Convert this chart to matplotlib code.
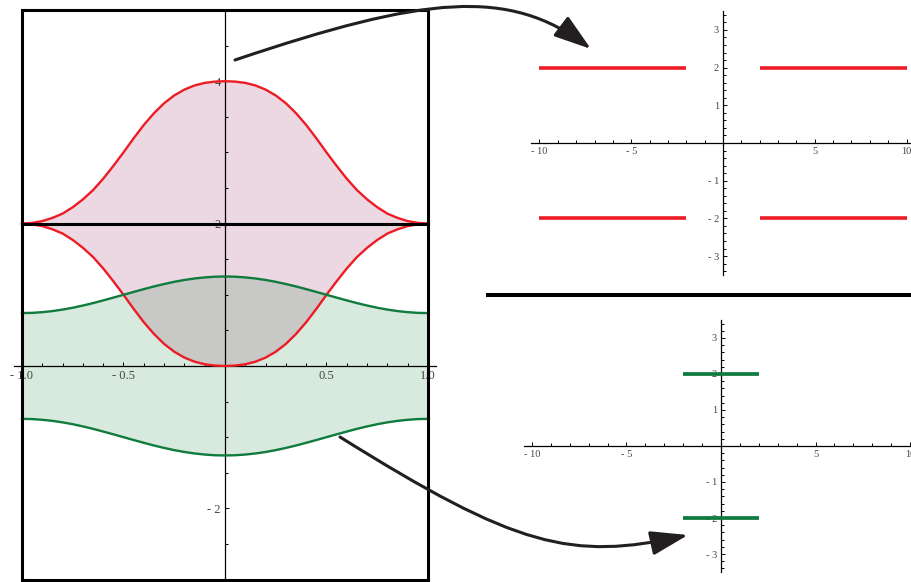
import numpy as np
import matplotlib.pyplot as plt
from matplotlib.patches import Rectangle, FancyArrowPatch
from matplotlib.path import Path

W, H = 911, 582

# left panel: profiles read at x = 0 .. 1 (step 0.05), mirrored for x < 0
x_half = np.linspace(0, 1, 21)
red_top = [4.000, 3.994, 3.976, 3.940, 3.882, 3.800, 3.690, 3.550, 3.385, 3.198, 3.000,
           2.810, 2.630, 2.470, 2.340, 2.230, 2.140, 2.080, 2.035, 2.010, 2.000]
red_bottom = [0.000, 0.006, 0.024, 0.060, 0.118, 0.200, 0.310, 0.450, 0.615, 0.802, 1.000,
              1.190, 1.370, 1.530, 1.660, 1.770, 1.860, 1.920, 1.965, 1.990, 2.000]
green_top = [1.257, 1.254, 1.244, 1.229, 1.208, 1.182, 1.151, 1.117, 1.079, 1.040, 1.000,
             0.960, 0.921, 0.883, 0.849, 0.818, 0.792, 0.771, 0.756, 0.746, 0.743]
green_bottom = [-1.257, -1.254, -1.244, -1.229, -1.208, -1.182, -1.151, -1.117, -1.079, -1.040, -1.000,
                -0.960, -0.921, -0.883, -0.849, -0.818, -0.792, -0.771, -0.756, -0.746, -0.743]
level_y = 2.0

left_xticks = [-1, -0.5, 0.5, 1]
left_xlabels = ['- 1.0', '- 0.5', '0.5', '1.0']
left_yticks = [-2, 2, 4]
left_ylabels = ['- 2', '2', '4']

# right panels: horizontal segments
red_x0 = [-10, 2, -10, 2]
red_x1 = [-2, 10, -2, 10]
red_y = [2, 2, -2, -2]
green_x0 = [-2, -2]
green_x1 = [2, 2]
green_y = [2, -2]

right_xticks = [-10, -5, 5, 10]
right_xlabels = ['- 10', '- 5', '5', '10']
right_yticks = [-3, -2, -1, 1, 2, 3]
right_ylabels = ['- 3', '- 2', '- 1', '1', '2', '3']

RED = '#ed1c24'
GREEN = '#0f7b3d'
PINK_FILL = '#ebd8e3'
GREEN_FILL = '#d8e9de'
GRAY_FILL = '#c8c9c6'

plt.rcParams['font.family'] = ['Liberation Serif', 'DejaVu Serif']


def mirror(vals):
    v = np.asarray(vals, dtype=float)
    return np.concatenate([v[::-1], v[1:]])


def px_axes(fig, left, top, right, bottom):
    return fig.add_axes([left / W, 1 - bottom / H, (right - left) / W, (bottom - top) / H])


def centre_axes(ax, xlim, ylim, xt, xl, xminor, yt, yl, yminor, fs, pad):
    ax.set_xlim(xlim)
    ax.set_ylim(ylim)
    for s in ['top', 'right']:
        ax.spines[s].set_visible(False)
    for s in ['left', 'bottom']:
        ax.spines[s].set_position(('data', 0))
        ax.spines[s].set_linewidth(0.9)
    ax.set_xticks(xt)
    ax.set_xticklabels(xl)
    ax.set_xticks(xminor, minor=True)
    ax.set_yticks(yt)
    ax.set_yticklabels(yl)
    ax.set_yticks(yminor, minor=True)
    ax.tick_params(which='both', direction='in', width=0.7, labelsize=fs,
                   labelcolor='#444444', pad=pad)
    ax.tick_params(which='major', length=3.2)
    ax.tick_params(which='minor', length=1.9)
    ax.patch.set_alpha(0)


fig = plt.figure(figsize=(W / 100, H / 100), dpi=100)

# ---- left panel
x = np.concatenate([-x_half[::-1], x_half[1:]])
rt, rb = mirror(red_top), mirror(red_bottom)
gt, gb = mirror(green_top), mirror(green_bottom)

ax = px_axes(fig, 11.85, 7.86, 438.15, 581.7)
centre_axes(ax, (-1.05, 1.05), (-3.03, 5.03), left_xticks, left_xlabels,
            [v / 10 for v in range(-10, 11) if v != 0], left_yticks, left_ylabels,
            [v / 2 for v in range(-6, 11) if v != 0], 9, 3)
ax.spines['bottom'].set_bounds(-1.04, 1.04)
ax.spines['left'].set_bounds(-3, 5)

ax.fill_between(x, rb, rt, color=PINK_FILL, lw=0, zorder=1)
ax.fill_between(x, gb, gt, color=GREEN_FILL, lw=0, zorder=1)
lo, hi = np.maximum(rb, gb), np.minimum(rt, gt)
ax.fill_between(x, lo, hi, where=hi > lo, interpolate=True, color=GRAY_FILL, lw=0, zorder=1.1)
for yy, col in [(rt, RED), (rb, RED), (gt, GREEN), (gb, GREEN)]:
    ax.plot(x, yy, color=col, lw=1.7, zorder=3, solid_joinstyle='round')
ax.plot([x.min(), x.max()], [level_y, level_y], color='black', lw=2.2, zorder=4)
ax.add_patch(Rectangle((-1, -3), 2, 8, fill=False, ec='black', lw=2.2,
                       zorder=6, clip_on=False))

# ---- right top panel
ax1 = px_axes(fig, 531.2, 11.05, 915.7, 274.95)
centre_axes(ax1, (-10.45, 10.5), (-3.5, 3.5), right_xticks, right_xlabels,
            [v for v in range(-10, 11) if v != 0], right_yticks, right_ylabels,
            [v / 5 for v in range(-17, 18) if v != 0], 7.5, 3)
ax1.hlines(red_y, red_x0, red_x1, color=RED, lw=2.6, capstyle='butt', zorder=3)

# ---- right bottom panel
ax2 = px_axes(fig, 524.4, 320, 919.5, 572)
centre_axes(ax2, (-10.4, 10.5), (-3.5, 3.5), right_xticks, right_xlabels,
            [v for v in range(-10, 11) if v != 0], right_yticks, right_ylabels,
            [v / 5 for v in range(-17, 18) if v != 0], 7.5, 3)
ax2.hlines(green_y, green_x0, green_x1, color=GREEN, lw=2.7, capstyle='butt', zorder=3)

# ---- overlay: separator and arrows
ov = fig.add_axes([0, 0, 1, 1], zorder=10)
ov.set_xlim(0, W)
ov.set_ylim(H, 0)
ov.axis('off')
ov.patch.set_alpha(0)
ov.plot([486, W], [294.7, 294.7], color='black', lw=2.9, solid_capstyle='butt')

codes = [Path.MOVETO, Path.CURVE4, Path.CURVE4, Path.CURVE4]
arrows = [
    [(235, 60), (425, -4), (509, -13), (591, 49)],
    [(340, 437), (516, 547), (571, 561), (688, 535)],
]
for verts in arrows:
    ov.add_patch(FancyArrowPatch(path=Path(verts, codes),
                                 arrowstyle='-|>,head_length=2.3,head_width=0.75',
                                 mutation_scale=10, lw=2.2, color='#231f20',
                                 shrinkA=0, shrinkB=0, clip_on=False))

fig.savefig('out.png', dpi=100)
